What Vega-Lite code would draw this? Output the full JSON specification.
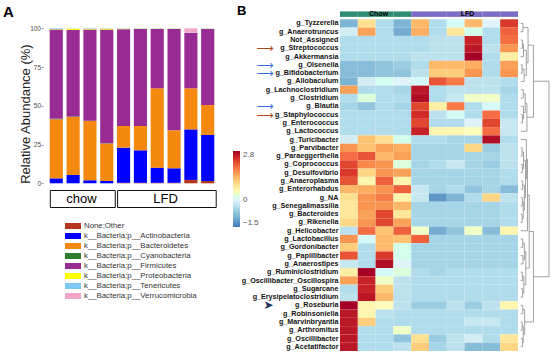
{
"$schema": "https://vega.github.io/schema/vega-lite/v6.json",
"background": "white",
"padding": {"left": 3, "top": 4, "right": 2, "bottom": 2},
"config": {"view": {"stroke": null}, "font": "Liberation Sans", "axis": {"grid": false}, "title": {"font": "Liberation Sans", "fontWeight": "bold", "color": "#000"}},
"spacing": 12,
"resolve": {"scale": {"color": "independent", "fill": "independent"}},
"hconcat": [
{
 "spacing": 2.5,
 "vconcat": [
  {
   "width": 178, "height": 172.3,
   "title": {"text": "A", "anchor": "start", "frame": "group", "dx": -40, "fontSize": 15, "offset": -9},
   "data": {"values": [
    {"s":"C1","p":"k__Bacteria;p__Actinobacteria","v":3.2},{"s":"C1","p":"k__Bacteria;p__Bacteroidetes","v":38.1},{"s":"C1","p":"k__Bacteria;p__Cyanobacteria","v":0.3},{"s":"C1","p":"k__Bacteria;p__Firmicutes","v":57.6},{"s":"C1","p":"k__Bacteria;p__Proteobacteria","v":0.3},{"s":"C1","p":"k__Bacteria;p__Tenericutes","v":0.5},
    {"s":"C2","p":"k__Bacteria;p__Actinobacteria","v":5.4},{"s":"C2","p":"k__Bacteria;p__Bacteroidetes","v":37.4},{"s":"C2","p":"k__Bacteria;p__Cyanobacteria","v":0.3},{"s":"C2","p":"k__Bacteria;p__Firmicutes","v":55.9},{"s":"C2","p":"k__Bacteria;p__Proteobacteria","v":0.8},{"s":"C2","p":"k__Bacteria;p__Tenericutes","v":0.2},
    {"s":"C3","p":"k__Bacteria;p__Actinobacteria","v":2.0},{"s":"C3","p":"k__Bacteria;p__Bacteroidetes","v":38.2},{"s":"C3","p":"k__Bacteria;p__Cyanobacteria","v":0.2},{"s":"C3","p":"k__Bacteria;p__Firmicutes","v":58.8},{"s":"C3","p":"k__Bacteria;p__Proteobacteria","v":0.5},{"s":"C3","p":"k__Bacteria;p__Tenericutes","v":0.3},
    {"s":"C4","p":"k__Bacteria;p__Actinobacteria","v":1.5},{"s":"C4","p":"k__Bacteria;p__Bacteroidetes","v":24.1},{"s":"C4","p":"k__Bacteria;p__Cyanobacteria","v":0.2},{"s":"C4","p":"k__Bacteria;p__Firmicutes","v":73.4},{"s":"C4","p":"k__Bacteria;p__Proteobacteria","v":0.6},{"s":"C4","p":"k__Bacteria;p__Tenericutes","v":0.2},
    {"s":"L1","p":"None;Other","v":0.3},{"s":"L1","p":"k__Bacteria;p__Actinobacteria","v":22.7},{"s":"L1","p":"k__Bacteria;p__Bacteroidetes","v":14.0},{"s":"L1","p":"k__Bacteria;p__Firmicutes","v":62.5},{"s":"L1","p":"k__Bacteria;p__Proteobacteria","v":0.3},{"s":"L1","p":"k__Bacteria;p__Tenericutes","v":0.2},
    {"s":"L2","p":"None;Other","v":0.3},{"s":"L2","p":"k__Bacteria;p__Actinobacteria","v":21.0},{"s":"L2","p":"k__Bacteria;p__Bacteroidetes","v":15.7},{"s":"L2","p":"k__Bacteria;p__Firmicutes","v":62.6},{"s":"L2","p":"k__Bacteria;p__Proteobacteria","v":0.2},{"s":"L2","p":"k__Bacteria;p__Tenericutes","v":0.2},
    {"s":"L3","p":"None;Other","v":0.3},{"s":"L3","p":"k__Bacteria;p__Actinobacteria","v":9.8},{"s":"L3","p":"k__Bacteria;p__Bacteroidetes","v":51.2},{"s":"L3","p":"k__Bacteria;p__Firmicutes","v":38.3},{"s":"L3","p":"k__Bacteria;p__Proteobacteria","v":0.2},{"s":"L3","p":"k__Bacteria;p__Tenericutes","v":0.2},
    {"s":"L4","p":"None;Other","v":0.3},{"s":"L4","p":"k__Bacteria;p__Actinobacteria","v":9.4},{"s":"L4","p":"k__Bacteria;p__Bacteroidetes","v":24.5},{"s":"L4","p":"k__Bacteria;p__Firmicutes","v":65.4},{"s":"L4","p":"k__Bacteria;p__Proteobacteria","v":0.2},{"s":"L4","p":"k__Bacteria;p__Tenericutes","v":0.2},
    {"s":"L5","p":"None;Other","v":2.2},{"s":"L5","p":"k__Bacteria;p__Actinobacteria","v":32.6},{"s":"L5","p":"k__Bacteria;p__Bacteroidetes","v":26.5},{"s":"L5","p":"k__Bacteria;p__Firmicutes","v":35.7},{"s":"L5","p":"k__Bacteria;p__Tenericutes","v":0.2},{"s":"L5","p":"k__Bacteria;p__Verrucomicrobia","v":2.8},
    {"s":"L6","p":"None;Other","v":1.5},{"s":"L6","p":"k__Bacteria;p__Actinobacteria","v":29.7},{"s":"L6","p":"k__Bacteria;p__Bacteroidetes","v":19.3},{"s":"L6","p":"k__Bacteria;p__Firmicutes","v":49.1},{"s":"L6","p":"k__Bacteria;p__Proteobacteria","v":0.2},{"s":"L6","p":"k__Bacteria;p__Tenericutes","v":0.2}
   ]},
   "mark": {"type": "bar"},
   "encoding": {
    "x": {"field": "s", "type": "nominal", "scale": {"domain": ["C1","C2","C3","C4","L1","L2","L3","L4","L5","L6"], "paddingInner": 0.22, "paddingOuter": 0.4}, "axis": null},
    "y": {"field": "v", "type": "quantitative", "stack": "zero", "scale": {"domain": [0, 111.2], "nice": false}, "axis": {"values": [0,25,50,75,100], "title": "Relative Abundance (%)", "titleFontSize": 13, "titleFontWeight": "normal", "titleColor": "#222", "titlePadding": -3, "titleAnchor": "start", "labelFontSize": 6.5, "labelColor": "#4d4d4d", "tickSize": 2, "tickColor": "#999", "domain": false, "labelPadding": 0.5}},
    "order": {"field": "p", "sort": "ascending"},
    "color": {"field": "p", "type": "nominal", "scale": {"domain": ["None;Other","k__Bacteria;p__Actinobacteria","k__Bacteria;p__Bacteroidetes","k__Bacteria;p__Cyanobacteria","k__Bacteria;p__Firmicutes","k__Bacteria;p__Proteobacteria","k__Bacteria;p__Tenericutes","k__Bacteria;p__Verrucomicrobia"], "range": ["#B5361C","#0000FF","#F5880F","#2E7D2E","#992B94","#FFFF00","#7CC8F5","#F0A6C8"]},
      "legend": {"orient": "none", "legendX": 25, "legendY": 210, "title": null, "symbolType": "M-1.6,-0.6H1.6V0.6H-1.6Z", "symbolSize": 100, "symbolStrokeWidth": 0, "labelFontSize": 7.8, "labelColor": "#333", "rowPadding": 1, "labelOffset": 6}}
   }
  },
  {
   "width": 178, "height": 17,
   "data": {"values": [{"group":"chow","first":1,"last":4,"mid":2.5},{"group":"LFD","first":5,"last":10,"mid":7.5}]},
   "layer": [
    {"mark": {"type": "rect", "fill": "white", "stroke": "#111", "strokeWidth": 1, "xOffset": -6, "x2Offset": 8.5},
     "encoding": {"x": {"field": "first", "type": "quantitative", "scale": {"domain": [0.209, 10.79], "nice": false, "zero": false}, "axis": null}, "x2": {"field": "last"}}},
    {"mark": {"type": "text", "fontSize": 13, "color": "#000", "font": "Liberation Sans"},
     "encoding": {"x": {"field": "mid", "type": "quantitative", "scale": {"domain": [0.209, 10.79], "nice": false, "zero": false}, "axis": null}, "text": {"field": "group"}}}
   ]
  }
 ]
},
{
 "spacing": 0,
 "resolve": {"scale": {"fill": "independent"}},
 "hconcat": [
  {
   "width": 178, "height": 340,
   "title": {"text": "B", "anchor": "start", "frame": "group", "dx": -103, "offset": -9, "fontSize": 13},
   "layer": [
    {
     "data": {"values": [{"r":"annot","s":"C1","grp":"chow"},{"r":"annot","s":"C2","grp":"chow"},{"r":"annot","s":"C3","grp":"chow"},{"r":"annot","s":"C4","grp":"chow"},{"r":"annot","s":"L1","grp":"LFD"},{"r":"annot","s":"L2","grp":"LFD"},{"r":"annot","s":"L3","grp":"LFD"},{"r":"annot","s":"L4","grp":"LFD"},{"r":"annot","s":"L5","grp":"LFD"},{"r":"annot","s":"L6","grp":"LFD"}]},
     "mark": {"type": "rect", "height": {"band": 0.66}, "yOffset": -1},
     "encoding": {
      "x": {"field": "s", "type": "nominal", "scale": {"domain": ["C1","C2","C3","C4","L1","L2","L3","L4","L5","L6"], "paddingInner": 0, "paddingOuter": 0}, "axis": null},
      "y": {"field": "r", "type": "nominal", "scale": {"domain": ["annot","g_Tyzzerella","g_Anaerotruncus","Not_Assigned","g_Streptococcus","g_Akkermansia","g_Olsenella","g_Bifidobacterium","g_Allobaculum","g_Lachnoclostridium","g_Clostridium","g_Blautia","g_Staphylococcus","g_Enterococcus","g_Lactococcus","g_Turicibacter","g_Parvibacter","g_Paraeggerthella","g_Coprococcus","g_Desulfovibrio","g_Anaeroplasma","g_Enterorhabdus","g_NA","g_Senegalimassilia","g_Bacteroides","g_Rikenella","g_Helicobacter","g_Lactobacillus","g_Gordonibacter","g_Papillibacter","g_Anaerostipes","g_Ruminiclostridium","g_Oscillibacter_Oscillospira","g_Sugarcane","g_Erysipelatoclostridium","g_Roseburia","g_Robinsoniella","g_Marvinbryantia","g_Arthromitus","g_Oscillibacter","g_Acetatifactor"], "paddingInner": 0, "paddingOuter": 0},
       "axis": {"orient": "left", "offset": 66, "title": null, "ticks": false, "domain": false, "labelPadding": 1, "labelOverlap": false, "labelFont": "DejaVu Sans", "labelFontSize": 12,
        "labelExpr": "indexof(['g_Streptococcus','g_Staphylococcus','g_Olsenella','g_Bifidobacterium','g_Blautia'], datum.value) >= 0 ? '⟶' : (datum.value == 'g_Roseburia' ? '➤' : '')",
        "labelColor": {"condition": [{"test": "datum.value == 'g_Streptococcus' || datum.value == 'g_Staphylococcus'", "value": "#B0461E"}, {"test": "datum.value == 'g_Roseburia'", "value": "#1D3260"}], "value": "#3B6FD3"}}},
      "color": {"field": "grp", "type": "nominal", "scale": {"domain": ["chow","LFD"], "range": ["#2F8C74","#7D6CC4"]}, "legend": null}
     }
    },
    {
     "data": {"values": [{"r":"annot","s":"C2","lab":"Chow"},{"r":"annot","s":"L3","lab":"LFD"}]},
     "mark": {"type": "text", "fontSize": 7, "fontWeight": "bold", "color": "#000", "dy": -1, "dx": 3},
     "encoding": {
      "x": {"field": "s", "type": "nominal", "bandPosition": 1, "axis": null},
      "y": {"field": "r", "type": "nominal", "axis": null},
      "text": {"field": "lab"}
     }
    },
    {
     "data": {"values": [
{"r":"g_Tyzzerella","s":"C1","v":-0.9},{"r":"g_Tyzzerella","s":"C2","v":0.9},{"r":"g_Tyzzerella","s":"C3","v":-0.4},{"r":"g_Tyzzerella","s":"C4","v":-0.9},{"r":"g_Tyzzerella","s":"L1","v":1.3},{"r":"g_Tyzzerella","s":"L2","v":-0.4},{"r":"g_Tyzzerella","s":"L3","v":0.1},{"r":"g_Tyzzerella","s":"L4","v":1.3},{"r":"g_Tyzzerella","s":"L5","v":0.0},{"r":"g_Tyzzerella","s":"L6","v":2.3},
{"r":"g_Anaerotruncus","s":"C1","v":-0.1},{"r":"g_Anaerotruncus","s":"C2","v":1.5},{"r":"g_Anaerotruncus","s":"C3","v":-0.4},{"r":"g_Anaerotruncus","s":"C4","v":-1.0},{"r":"g_Anaerotruncus","s":"L1","v":1.4},{"r":"g_Anaerotruncus","s":"L2","v":-0.4},{"r":"g_Anaerotruncus","s":"L3","v":0.8},{"r":"g_Anaerotruncus","s":"L4","v":0.2},{"r":"g_Anaerotruncus","s":"L5","v":-0.4},{"r":"g_Anaerotruncus","s":"L6","v":2.0},
{"r":"Not_Assigned","s":"C1","v":-0.4},{"r":"Not_Assigned","s":"C2","v":-0.4},{"r":"Not_Assigned","s":"C3","v":-0.4},{"r":"Not_Assigned","s":"C4","v":-0.4},{"r":"Not_Assigned","s":"L1","v":-0.4},{"r":"Not_Assigned","s":"L2","v":-0.3},{"r":"Not_Assigned","s":"L3","v":-0.3},{"r":"Not_Assigned","s":"L4","v":2.5},{"r":"Not_Assigned","s":"L5","v":-0.4},{"r":"Not_Assigned","s":"L6","v":1.9},
{"r":"g_Streptococcus","s":"C1","v":-0.4},{"r":"g_Streptococcus","s":"C2","v":-0.4},{"r":"g_Streptococcus","s":"C3","v":-0.4},{"r":"g_Streptococcus","s":"C4","v":-0.4},{"r":"g_Streptococcus","s":"L1","v":-0.4},{"r":"g_Streptococcus","s":"L2","v":-0.3},{"r":"g_Streptococcus","s":"L3","v":-0.3},{"r":"g_Streptococcus","s":"L4","v":2.6},{"r":"g_Streptococcus","s":"L5","v":-0.3},{"r":"g_Streptococcus","s":"L6","v":1.6},
{"r":"g_Akkermansia","s":"C1","v":-0.4},{"r":"g_Akkermansia","s":"C2","v":-0.4},{"r":"g_Akkermansia","s":"C3","v":-0.4},{"r":"g_Akkermansia","s":"C4","v":-0.4},{"r":"g_Akkermansia","s":"L1","v":-0.3},{"r":"g_Akkermansia","s":"L2","v":-0.3},{"r":"g_Akkermansia","s":"L3","v":-0.3},{"r":"g_Akkermansia","s":"L4","v":2.8},{"r":"g_Akkermansia","s":"L5","v":-0.4},{"r":"g_Akkermansia","s":"L6","v":0.7},
{"r":"g_Olsenella","s":"C1","v":-0.8},{"r":"g_Olsenella","s":"C2","v":-0.8},{"r":"g_Olsenella","s":"C3","v":-0.7},{"r":"g_Olsenella","s":"C4","v":-0.6},{"r":"g_Olsenella","s":"L1","v":-0.4},{"r":"g_Olsenella","s":"L2","v":1.3},{"r":"g_Olsenella","s":"L3","v":1.3},{"r":"g_Olsenella","s":"L4","v":1.4},{"r":"g_Olsenella","s":"L5","v":-0.4},{"r":"g_Olsenella","s":"L6","v":1.5},
{"r":"g_Bifidobacterium","s":"C1","v":-0.8},{"r":"g_Bifidobacterium","s":"C2","v":-0.8},{"r":"g_Bifidobacterium","s":"C3","v":-0.7},{"r":"g_Bifidobacterium","s":"C4","v":-0.7},{"r":"g_Bifidobacterium","s":"L1","v":-0.3},{"r":"g_Bifidobacterium","s":"L2","v":1.1},{"r":"g_Bifidobacterium","s":"L3","v":1.1},{"r":"g_Bifidobacterium","s":"L4","v":1.6},{"r":"g_Bifidobacterium","s":"L5","v":-0.4},{"r":"g_Bifidobacterium","s":"L6","v":1.6},
{"r":"g_Allobaculum","s":"C1","v":-0.9},{"r":"g_Allobaculum","s":"C2","v":-0.1},{"r":"g_Allobaculum","s":"C3","v":0.2},{"r":"g_Allobaculum","s":"C4","v":0.0},{"r":"g_Allobaculum","s":"L1","v":0.1},{"r":"g_Allobaculum","s":"L2","v":2.1},{"r":"g_Allobaculum","s":"L3","v":1.8},{"r":"g_Allobaculum","s":"L4","v":-0.3},{"r":"g_Allobaculum","s":"L5","v":-0.3},{"r":"g_Allobaculum","s":"L6","v":-0.4},
{"r":"g_Lachnoclostridium","s":"C1","v":1.5},{"r":"g_Lachnoclostridium","s":"C2","v":-0.4},{"r":"g_Lachnoclostridium","s":"C3","v":-0.4},{"r":"g_Lachnoclostridium","s":"C4","v":-0.5},{"r":"g_Lachnoclostridium","s":"L1","v":2.6},{"r":"g_Lachnoclostridium","s":"L2","v":-0.4},{"r":"g_Lachnoclostridium","s":"L3","v":-0.3},{"r":"g_Lachnoclostridium","s":"L4","v":-0.3},{"r":"g_Lachnoclostridium","s":"L5","v":-0.3},{"r":"g_Lachnoclostridium","s":"L6","v":-0.5},
{"r":"g_Clostridium","s":"C1","v":-0.4},{"r":"g_Clostridium","s":"C2","v":0.3},{"r":"g_Clostridium","s":"C3","v":-0.4},{"r":"g_Clostridium","s":"C4","v":-0.4},{"r":"g_Clostridium","s":"L1","v":2.7},{"r":"g_Clostridium","s":"L2","v":-0.4},{"r":"g_Clostridium","s":"L3","v":-0.2},{"r":"g_Clostridium","s":"L4","v":0.4},{"r":"g_Clostridium","s":"L5","v":0.4},{"r":"g_Clostridium","s":"L6","v":-0.4},
{"r":"g_Blautia","s":"C1","v":-0.5},{"r":"g_Blautia","s":"C2","v":-0.7},{"r":"g_Blautia","s":"C3","v":-0.4},{"r":"g_Blautia","s":"C4","v":-0.5},{"r":"g_Blautia","s":"L1","v":2.2},{"r":"g_Blautia","s":"L2","v":0.7},{"r":"g_Blautia","s":"L3","v":1.8},{"r":"g_Blautia","s":"L4","v":-0.4},{"r":"g_Blautia","s":"L5","v":0.1},{"r":"g_Blautia","s":"L6","v":-0.4},
{"r":"g_Staphylococcus","s":"C1","v":-0.4},{"r":"g_Staphylococcus","s":"C2","v":-0.4},{"r":"g_Staphylococcus","s":"C3","v":-0.4},{"r":"g_Staphylococcus","s":"C4","v":-0.4},{"r":"g_Staphylococcus","s":"L1","v":2.4},{"r":"g_Staphylococcus","s":"L2","v":-0.3},{"r":"g_Staphylococcus","s":"L3","v":0.1},{"r":"g_Staphylococcus","s":"L4","v":-0.4},{"r":"g_Staphylococcus","s":"L5","v":1.9},{"r":"g_Staphylococcus","s":"L6","v":-0.4},
{"r":"g_Enterococcus","s":"C1","v":-0.4},{"r":"g_Enterococcus","s":"C2","v":-0.4},{"r":"g_Enterococcus","s":"C3","v":-0.4},{"r":"g_Enterococcus","s":"C4","v":-0.4},{"r":"g_Enterococcus","s":"L1","v":2.2},{"r":"g_Enterococcus","s":"L2","v":-0.4},{"r":"g_Enterococcus","s":"L3","v":-0.4},{"r":"g_Enterococcus","s":"L4","v":0.0},{"r":"g_Enterococcus","s":"L5","v":2.2},{"r":"g_Enterococcus","s":"L6","v":-0.2},
{"r":"g_Lactococcus","s":"C1","v":-0.4},{"r":"g_Lactococcus","s":"C2","v":-0.4},{"r":"g_Lactococcus","s":"C3","v":-0.4},{"r":"g_Lactococcus","s":"C4","v":-0.4},{"r":"g_Lactococcus","s":"L1","v":2.5},{"r":"g_Lactococcus","s":"L2","v":0.6},{"r":"g_Lactococcus","s":"L3","v":0.6},{"r":"g_Lactococcus","s":"L4","v":0.5},{"r":"g_Lactococcus","s":"L5","v":1.9},{"r":"g_Lactococcus","s":"L6","v":-0.2},
{"r":"g_Turicibacter","s":"C1","v":-0.1},{"r":"g_Turicibacter","s":"C2","v":1.2},{"r":"g_Turicibacter","s":"C3","v":0.9},{"r":"g_Turicibacter","s":"C4","v":0.2},{"r":"g_Turicibacter","s":"L1","v":-0.4},{"r":"g_Turicibacter","s":"L2","v":-0.4},{"r":"g_Turicibacter","s":"L3","v":-0.5},{"r":"g_Turicibacter","s":"L4","v":-0.5},{"r":"g_Turicibacter","s":"L5","v":2.7},{"r":"g_Turicibacter","s":"L6","v":-0.4},
{"r":"g_Parvibacter","s":"C1","v":1.6},{"r":"g_Parvibacter","s":"C2","v":1.2},{"r":"g_Parvibacter","s":"C3","v":1.5},{"r":"g_Parvibacter","s":"C4","v":1.4},{"r":"g_Parvibacter","s":"L1","v":-0.5},{"r":"g_Parvibacter","s":"L2","v":-0.5},{"r":"g_Parvibacter","s":"L3","v":-0.5},{"r":"g_Parvibacter","s":"L4","v":1.0},{"r":"g_Parvibacter","s":"L5","v":-0.6},{"r":"g_Parvibacter","s":"L6","v":-0.3},
{"r":"g_Paraeggerthella","s":"C1","v":1.9},{"r":"g_Paraeggerthella","s":"C2","v":2.1},{"r":"g_Paraeggerthella","s":"C3","v":1.3},{"r":"g_Paraeggerthella","s":"C4","v":1.5},{"r":"g_Paraeggerthella","s":"L1","v":-0.5},{"r":"g_Paraeggerthella","s":"L2","v":-0.5},{"r":"g_Paraeggerthella","s":"L3","v":-0.5},{"r":"g_Paraeggerthella","s":"L4","v":-0.5},{"r":"g_Paraeggerthella","s":"L5","v":-0.5},{"r":"g_Paraeggerthella","s":"L6","v":-0.3},
{"r":"g_Coprococcus","s":"C1","v":2.2},{"r":"g_Coprococcus","s":"C2","v":1.7},{"r":"g_Coprococcus","s":"C3","v":1.6},{"r":"g_Coprococcus","s":"C4","v":0.3},{"r":"g_Coprococcus","s":"L1","v":-0.5},{"r":"g_Coprococcus","s":"L2","v":-0.4},{"r":"g_Coprococcus","s":"L3","v":-0.2},{"r":"g_Coprococcus","s":"L4","v":-0.5},{"r":"g_Coprococcus","s":"L5","v":-0.6},{"r":"g_Coprococcus","s":"L6","v":-0.3},
{"r":"g_Desulfovibrio","s":"C1","v":2.3},{"r":"g_Desulfovibrio","s":"C2","v":1.0},{"r":"g_Desulfovibrio","s":"C3","v":1.6},{"r":"g_Desulfovibrio","s":"C4","v":1.5},{"r":"g_Desulfovibrio","s":"L1","v":-0.5},{"r":"g_Desulfovibrio","s":"L2","v":-0.5},{"r":"g_Desulfovibrio","s":"L3","v":-0.5},{"r":"g_Desulfovibrio","s":"L4","v":-0.5},{"r":"g_Desulfovibrio","s":"L5","v":-0.5},{"r":"g_Desulfovibrio","s":"L6","v":-0.4},
{"r":"g_Anaeroplasma","s":"C1","v":2.1},{"r":"g_Anaeroplasma","s":"C2","v":0.6},{"r":"g_Anaeroplasma","s":"C3","v":2.0},{"r":"g_Anaeroplasma","s":"C4","v":0.6},{"r":"g_Anaeroplasma","s":"L1","v":-0.5},{"r":"g_Anaeroplasma","s":"L2","v":-0.5},{"r":"g_Anaeroplasma","s":"L3","v":-0.5},{"r":"g_Anaeroplasma","s":"L4","v":-0.5},{"r":"g_Anaeroplasma","s":"L5","v":-0.5},{"r":"g_Anaeroplasma","s":"L6","v":-0.4},
{"r":"g_Enterorhabdus","s":"C1","v":1.3},{"r":"g_Enterorhabdus","s":"C2","v":1.4},{"r":"g_Enterorhabdus","s":"C3","v":1.6},{"r":"g_Enterorhabdus","s":"C4","v":2.0},{"r":"g_Enterorhabdus","s":"L1","v":-0.2},{"r":"g_Enterorhabdus","s":"L2","v":-0.5},{"r":"g_Enterorhabdus","s":"L3","v":-0.4},{"r":"g_Enterorhabdus","s":"L4","v":-0.7},{"r":"g_Enterorhabdus","s":"L5","v":-0.5},{"r":"g_Enterorhabdus","s":"L6","v":-0.8},
{"r":"g_NA","s":"C1","v":0.9},{"r":"g_NA","s":"C2","v":1.6},{"r":"g_NA","s":"C3","v":1.8},{"r":"g_NA","s":"C4","v":0.6},{"r":"g_NA","s":"L1","v":-0.2},{"r":"g_NA","s":"L2","v":-1.2},{"r":"g_NA","s":"L3","v":-0.9},{"r":"g_NA","s":"L4","v":-0.4},{"r":"g_NA","s":"L5","v":1.0},{"r":"g_NA","s":"L6","v":-0.3},
{"r":"g_Senegalimassilia","s":"C1","v":0.8},{"r":"g_Senegalimassilia","s":"C2","v":1.6},{"r":"g_Senegalimassilia","s":"C3","v":1.6},{"r":"g_Senegalimassilia","s":"C4","v":1.3},{"r":"g_Senegalimassilia","s":"L1","v":-0.5},{"r":"g_Senegalimassilia","s":"L2","v":-0.5},{"r":"g_Senegalimassilia","s":"L3","v":-0.5},{"r":"g_Senegalimassilia","s":"L4","v":-0.5},{"r":"g_Senegalimassilia","s":"L5","v":-0.5},{"r":"g_Senegalimassilia","s":"L6","v":-0.4},
{"r":"g_Bacteroides","s":"C1","v":0.8},{"r":"g_Bacteroides","s":"C2","v":1.5},{"r":"g_Bacteroides","s":"C3","v":2.2},{"r":"g_Bacteroides","s":"C4","v":0.8},{"r":"g_Bacteroides","s":"L1","v":-0.5},{"r":"g_Bacteroides","s":"L2","v":-0.5},{"r":"g_Bacteroides","s":"L3","v":-0.5},{"r":"g_Bacteroides","s":"L4","v":-0.5},{"r":"g_Bacteroides","s":"L5","v":-0.5},{"r":"g_Bacteroides","s":"L6","v":-0.4},
{"r":"g_Rikenella","s":"C1","v":1.0},{"r":"g_Rikenella","s":"C2","v":1.6},{"r":"g_Rikenella","s":"C3","v":2.2},{"r":"g_Rikenella","s":"C4","v":1.5},{"r":"g_Rikenella","s":"L1","v":-0.5},{"r":"g_Rikenella","s":"L2","v":-0.5},{"r":"g_Rikenella","s":"L3","v":-0.5},{"r":"g_Rikenella","s":"L4","v":-0.5},{"r":"g_Rikenella","s":"L5","v":-0.5},{"r":"g_Rikenella","s":"L6","v":-0.4},
{"r":"g_Helicobacter","s":"C1","v":-0.3},{"r":"g_Helicobacter","s":"C2","v":1.9},{"r":"g_Helicobacter","s":"C3","v":1.2},{"r":"g_Helicobacter","s":"C4","v":2.0},{"r":"g_Helicobacter","s":"L1","v":0.4},{"r":"g_Helicobacter","s":"L2","v":-1.0},{"r":"g_Helicobacter","s":"L3","v":-0.7},{"r":"g_Helicobacter","s":"L4","v":0.4},{"r":"g_Helicobacter","s":"L5","v":-0.8},{"r":"g_Helicobacter","s":"L6","v":0.6},
{"r":"g_Lactobacillus","s":"C1","v":1.6},{"r":"g_Lactobacillus","s":"C2","v":0.1},{"r":"g_Lactobacillus","s":"C3","v":1.3},{"r":"g_Lactobacillus","s":"C4","v":1.2},{"r":"g_Lactobacillus","s":"L1","v":2.0},{"r":"g_Lactobacillus","s":"L2","v":-0.5},{"r":"g_Lactobacillus","s":"L3","v":-0.5},{"r":"g_Lactobacillus","s":"L4","v":-0.5},{"r":"g_Lactobacillus","s":"L5","v":-0.5},{"r":"g_Lactobacillus","s":"L6","v":-0.5},
{"r":"g_Gordonibacter","s":"C1","v":1.1},{"r":"g_Gordonibacter","s":"C2","v":-0.4},{"r":"g_Gordonibacter","s":"C3","v":1.3},{"r":"g_Gordonibacter","s":"C4","v":0.2},{"r":"g_Gordonibacter","s":"L1","v":-0.5},{"r":"g_Gordonibacter","s":"L2","v":-0.5},{"r":"g_Gordonibacter","s":"L3","v":-0.5},{"r":"g_Gordonibacter","s":"L4","v":-0.5},{"r":"g_Gordonibacter","s":"L5","v":-0.5},{"r":"g_Gordonibacter","s":"L6","v":-0.5},
{"r":"g_Papillibacter","s":"C1","v":2.1},{"r":"g_Papillibacter","s":"C2","v":-0.4},{"r":"g_Papillibacter","s":"C3","v":2.3},{"r":"g_Papillibacter","s":"C4","v":0.2},{"r":"g_Papillibacter","s":"L1","v":-0.5},{"r":"g_Papillibacter","s":"L2","v":-0.5},{"r":"g_Papillibacter","s":"L3","v":-0.5},{"r":"g_Papillibacter","s":"L4","v":-0.5},{"r":"g_Papillibacter","s":"L5","v":-0.5},{"r":"g_Papillibacter","s":"L6","v":-0.5},
{"r":"g_Anaerostipes","s":"C1","v":-0.2},{"r":"g_Anaerostipes","s":"C2","v":-0.4},{"r":"g_Anaerostipes","s":"C3","v":2.7},{"r":"g_Anaerostipes","s":"C4","v":0.0},{"r":"g_Anaerostipes","s":"L1","v":-0.5},{"r":"g_Anaerostipes","s":"L2","v":-0.5},{"r":"g_Anaerostipes","s":"L3","v":-0.5},{"r":"g_Anaerostipes","s":"L4","v":-0.5},{"r":"g_Anaerostipes","s":"L5","v":-0.5},{"r":"g_Anaerostipes","s":"L6","v":-0.5},
{"r":"g_Ruminiclostridium","s":"C1","v":0.7},{"r":"g_Ruminiclostridium","s":"C2","v":2.8},{"r":"g_Ruminiclostridium","s":"C3","v":0.1},{"r":"g_Ruminiclostridium","s":"C4","v":0.3},{"r":"g_Ruminiclostridium","s":"L1","v":-0.4},{"r":"g_Ruminiclostridium","s":"L2","v":-0.5},{"r":"g_Ruminiclostridium","s":"L3","v":-0.4},{"r":"g_Ruminiclostridium","s":"L4","v":-0.4},{"r":"g_Ruminiclostridium","s":"L5","v":-0.4},{"r":"g_Ruminiclostridium","s":"L6","v":-0.4},
{"r":"g_Oscillibacter_Oscillospira","s":"C1","v":1.5},{"r":"g_Oscillibacter_Oscillospira","s":"C2","v":2.5},{"r":"g_Oscillibacter_Oscillospira","s":"C3","v":0.4},{"r":"g_Oscillibacter_Oscillospira","s":"C4","v":-0.3},{"r":"g_Oscillibacter_Oscillospira","s":"L1","v":-0.4},{"r":"g_Oscillibacter_Oscillospira","s":"L2","v":-0.4},{"r":"g_Oscillibacter_Oscillospira","s":"L3","v":-0.4},{"r":"g_Oscillibacter_Oscillospira","s":"L4","v":-0.4},{"r":"g_Oscillibacter_Oscillospira","s":"L5","v":-0.4},{"r":"g_Oscillibacter_Oscillospira","s":"L6","v":-0.4},
{"r":"g_Sugarcane","s":"C1","v":-0.4},{"r":"g_Sugarcane","s":"C2","v":2.5},{"r":"g_Sugarcane","s":"C3","v":1.1},{"r":"g_Sugarcane","s":"C4","v":-0.3},{"r":"g_Sugarcane","s":"L1","v":-0.4},{"r":"g_Sugarcane","s":"L2","v":-0.4},{"r":"g_Sugarcane","s":"L3","v":-0.4},{"r":"g_Sugarcane","s":"L4","v":-0.4},{"r":"g_Sugarcane","s":"L5","v":-0.4},{"r":"g_Sugarcane","s":"L6","v":-0.4},
{"r":"g_Erysipelatoclostridium","s":"C1","v":-0.3},{"r":"g_Erysipelatoclostridium","s":"C2","v":2.6},{"r":"g_Erysipelatoclostridium","s":"C3","v":1.3},{"r":"g_Erysipelatoclostridium","s":"C4","v":-0.3},{"r":"g_Erysipelatoclostridium","s":"L1","v":-0.4},{"r":"g_Erysipelatoclostridium","s":"L2","v":-0.4},{"r":"g_Erysipelatoclostridium","s":"L3","v":-0.4},{"r":"g_Erysipelatoclostridium","s":"L4","v":-0.4},{"r":"g_Erysipelatoclostridium","s":"L5","v":-0.4},{"r":"g_Erysipelatoclostridium","s":"L6","v":-0.4},
{"r":"g_Roseburia","s":"C1","v":2.8},{"r":"g_Roseburia","s":"C2","v":0.6},{"r":"g_Roseburia","s":"C3","v":0.5},{"r":"g_Roseburia","s":"C4","v":-0.3},{"r":"g_Roseburia","s":"L1","v":-0.6},{"r":"g_Roseburia","s":"L2","v":-0.6},{"r":"g_Roseburia","s":"L3","v":-0.3},{"r":"g_Roseburia","s":"L4","v":-0.6},{"r":"g_Roseburia","s":"L5","v":-0.3},{"r":"g_Roseburia","s":"L6","v":0.6},
{"r":"g_Robinsoniella","s":"C1","v":2.6},{"r":"g_Robinsoniella","s":"C2","v":0.6},{"r":"g_Robinsoniella","s":"C3","v":-0.3},{"r":"g_Robinsoniella","s":"C4","v":-0.4},{"r":"g_Robinsoniella","s":"L1","v":-0.4},{"r":"g_Robinsoniella","s":"L2","v":-0.4},{"r":"g_Robinsoniella","s":"L3","v":-0.4},{"r":"g_Robinsoniella","s":"L4","v":-0.4},{"r":"g_Robinsoniella","s":"L5","v":-0.4},{"r":"g_Robinsoniella","s":"L6","v":-0.4},
{"r":"g_Marvinbryantia","s":"C1","v":2.6},{"r":"g_Marvinbryantia","s":"C2","v":1.1},{"r":"g_Marvinbryantia","s":"C3","v":-0.4},{"r":"g_Marvinbryantia","s":"C4","v":-0.4},{"r":"g_Marvinbryantia","s":"L1","v":-0.4},{"r":"g_Marvinbryantia","s":"L2","v":-0.4},{"r":"g_Marvinbryantia","s":"L3","v":-0.4},{"r":"g_Marvinbryantia","s":"L4","v":-0.2},{"r":"g_Marvinbryantia","s":"L5","v":-0.2},{"r":"g_Marvinbryantia","s":"L6","v":-0.4},
{"r":"g_Arthromitus","s":"C1","v":2.6},{"r":"g_Arthromitus","s":"C2","v":-0.4},{"r":"g_Arthromitus","s":"C3","v":-0.4},{"r":"g_Arthromitus","s":"C4","v":0.4},{"r":"g_Arthromitus","s":"L1","v":-0.4},{"r":"g_Arthromitus","s":"L2","v":-0.4},{"r":"g_Arthromitus","s":"L3","v":-0.4},{"r":"g_Arthromitus","s":"L4","v":-0.4},{"r":"g_Arthromitus","s":"L5","v":-0.4},{"r":"g_Arthromitus","s":"L6","v":-0.4},
{"r":"g_Oscillibacter","s":"C1","v":2.6},{"r":"g_Oscillibacter","s":"C2","v":-0.4},{"r":"g_Oscillibacter","s":"C3","v":-0.4},{"r":"g_Oscillibacter","s":"C4","v":-0.7},{"r":"g_Oscillibacter","s":"L1","v":0.9},{"r":"g_Oscillibacter","s":"L2","v":-0.6},{"r":"g_Oscillibacter","s":"L3","v":-0.3},{"r":"g_Oscillibacter","s":"L4","v":-0.1},{"r":"g_Oscillibacter","s":"L5","v":-0.4},{"r":"g_Oscillibacter","s":"L6","v":0.8},
{"r":"g_Acetatifactor","s":"C1","v":2.6},{"r":"g_Acetatifactor","s":"C2","v":-0.4},{"r":"g_Acetatifactor","s":"C3","v":-0.4},{"r":"g_Acetatifactor","s":"C4","v":-0.3},{"r":"g_Acetatifactor","s":"L1","v":1.1},{"r":"g_Acetatifactor","s":"L2","v":-0.5},{"r":"g_Acetatifactor","s":"L3","v":-0.3},{"r":"g_Acetatifactor","s":"L4","v":-0.8},{"r":"g_Acetatifactor","s":"L5","v":-0.8},{"r":"g_Acetatifactor","s":"L6","v":1.0}
     ]},
     "mark": {"type": "rect"},
     "encoding": {
      "x": {"field": "s", "type": "nominal", "axis": null},
      "y": {"field": "r", "type": "nominal", "axis": {"orient": "left", "title": null, "ticks": false, "domain": false, "labelPadding": 2, "labelOverlap": false, "labelFontSize": 7.2, "labelFontWeight": "bold", "labelColor": "#111", "labelFont": "Liberation Sans", "labelExpr": "datum.value == 'annot' ? '' : datum.value"}},
      "fill": {"field": "v", "type": "quantitative", "scale": {"domain": [-1.5,-1.0,-0.45,0,0.45,0.9,1.4,1.9,2.35,2.8], "range": ["#4575B4","#74ADD1","#ABD9E9","#E0F3F8","#FFFFBF","#FEE090","#FDAE61","#F46D43","#D73027","#A50026"]},
       "legend": {"orient": "none", "legendX": -107, "legendY": 140, "title": null, "direction": "vertical", "gradientLength": 76, "gradientThickness": 7, "values": [-1.5, 0, 2.8], "format": ".1~f", "labelFontSize": 8, "labelColor": "#555", "labelOffset": 3}}
     }
    }
   ],
   "resolve": {"axis": {"y": "independent"}}
  },
  {
   "width": 30, "height": 340,
   "data": {"values": [
    {"h":0.8,"ya":1,"yb":2,"ha":0,"hb":0},{"h":0.6,"ya":3,"yb":4,"ha":0,"hb":0},{"h":1.0,"ya":3.5,"yb":5,"ha":0.6,"hb":0},{"h":0.5,"ya":6,"yb":7,"ha":0,"hb":0},{"h":1.2,"ya":6.5,"yb":8,"ha":0.5,"hb":0},{"h":2.0,"ya":4.25,"yb":7.25,"ha":1.0,"hb":1.2},{"h":2.6,"ya":1.5,"yb":5.75,"ha":0.8,"hb":2.0},
    {"h":0.9,"ya":9,"yb":10,"ha":0,"hb":0},{"h":0.6,"ya":12,"yb":13,"ha":0,"hb":0},{"h":1.0,"ya":11,"yb":12.5,"ha":0,"hb":0.6},{"h":1.6,"ya":9.5,"yb":11.75,"ha":0.9,"hb":1.0},{"h":2.2,"ya":10.625,"yb":14,"ha":1.6,"hb":0},{"h":4.5,"ya":3.625,"yb":12.3125,"ha":2.6,"hb":2.2},
    {"h":0.5,"ya":16,"yb":17,"ha":0,"hb":0},{"h":0.6,"ya":18,"yb":19,"ha":0,"hb":0},{"h":1.0,"ya":16.5,"yb":18.5,"ha":0.5,"hb":0.6},{"h":0.7,"ya":20,"yb":21,"ha":0,"hb":0},{"h":0.6,"ya":22,"yb":23,"ha":0,"hb":0},{"h":0.5,"ya":24,"yb":25,"ha":0,"hb":0},{"h":0.9,"ya":22.5,"yb":24.5,"ha":0.6,"hb":0.5},{"h":1.3,"ya":20.5,"yb":23.5,"ha":0.7,"hb":0.9},{"h":1.7,"ya":17.5,"yb":22,"ha":1.0,"hb":1.3},{"h":2.0,"ya":15,"yb":19.75,"ha":0,"hb":1.7},{"h":2.4,"ya":17.375,"yb":26,"ha":2.0,"hb":0},
    {"h":0.7,"ya":27,"yb":28,"ha":0,"hb":0},{"h":0.8,"ya":29,"yb":30,"ha":0,"hb":0},{"h":1.3,"ya":27.5,"yb":29.5,"ha":0.7,"hb":0.8},{"h":0.6,"ya":31,"yb":32,"ha":0,"hb":0},{"h":0.7,"ya":33,"yb":34,"ha":0,"hb":0},{"h":1.1,"ya":31.5,"yb":33.5,"ha":0.6,"hb":0.7},{"h":1.8,"ya":28.5,"yb":32.5,"ha":1.3,"hb":1.1},{"h":3.0,"ya":21.6875,"yb":30.5,"ha":2.4,"hb":1.8},
    {"h":0.7,"ya":35,"yb":36,"ha":0,"hb":0},{"h":0.5,"ya":37,"yb":38,"ha":0,"hb":0},{"h":0.6,"ya":39,"yb":40,"ha":0,"hb":0},{"h":0.9,"ya":37.5,"yb":39.5,"ha":0.5,"hb":0.6},{"h":1.4,"ya":35.5,"yb":38.5,"ha":0.7,"hb":0.9},{"h":4.5,"ya":26.09375,"yb":37,"ha":3.0,"hb":1.4},
    {"h":10,"ya":7.96875,"yb":31.546875,"ha":4.5,"hb":4.5}
   ]},
   "layer": [
    {"mark": {"type": "rule", "color": "#8a8a8a", "strokeWidth": 0.8},
     "encoding": {"x": {"field": "h", "type": "quantitative", "scale": {"domain": [-0.6, 10], "nice": false, "zero": false}, "axis": null}, "y": {"field": "ya", "type": "quantitative", "scale": {"domain": [-0.5, 40.5], "reverse": true, "nice": false, "zero": false}, "axis": null}, "y2": {"field": "yb"}}},
    {"mark": {"type": "rule", "color": "#8a8a8a", "strokeWidth": 0.8},
     "encoding": {"x": {"field": "ha", "type": "quantitative", "axis": null}, "x2": {"field": "h"}, "y": {"field": "ya", "type": "quantitative", "axis": null}}},
    {"mark": {"type": "rule", "color": "#8a8a8a", "strokeWidth": 0.8},
     "encoding": {"x": {"field": "hb", "type": "quantitative", "axis": null}, "x2": {"field": "h"}, "y": {"field": "yb", "type": "quantitative", "axis": null}}}
   ]
  }
 ]
}
]
}
